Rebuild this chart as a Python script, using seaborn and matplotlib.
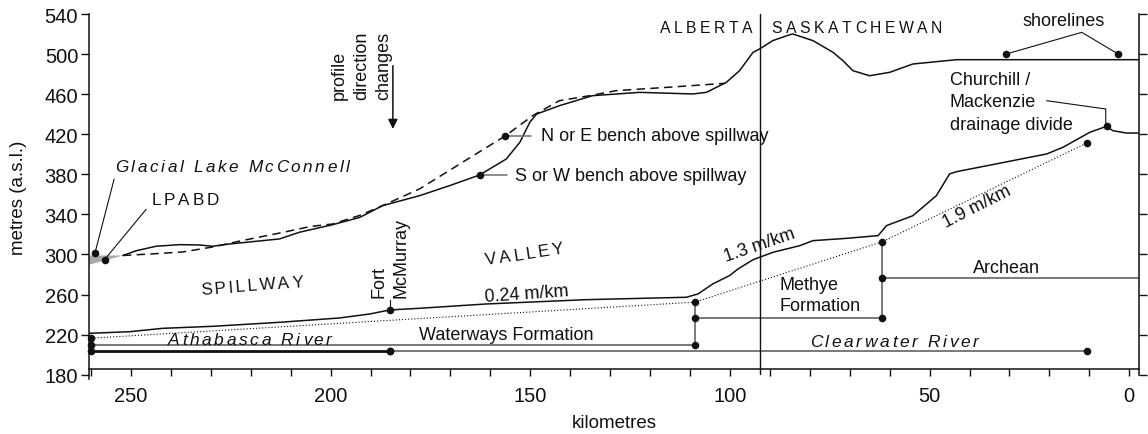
import numpy as np
import matplotlib
matplotlib.use("Agg")
import matplotlib.pyplot as plt
import seaborn as sns
from matplotlib.font_manager import FontProperties, findfont, get_font
from matplotlib.transforms import offset_copy

# ---- profile data (distance in km from the divide end, elevation in m a.s.l.) ----
bench_sw_km = [252.0, 248.6, 243.7, 237.9, 232.9, 229.5, 225.3, 212.8, 207.8, 199.5,
               192.7, 187.0, 177.7, 170.2, 162.7, 156.0, 152.6, 150.1, 148.4, 142.7,
               134.4, 122.6, 109.3, 105.9, 100.9, 97.6, 94.2, 92.6, 89.3, 85.0,
               84.2, 79.2, 74.2, 71.7, 69.2, 65.0, 60.0, 54.2, 43.3, -2.5]
bench_sw_m = [299.0, 303.8, 308.2, 309.8, 309.5, 308.2, 310.5, 315.5, 322.2, 329.7,
              337.0, 348.7, 358.7, 368.7, 379.3, 395.3, 412.0, 432.0, 440.2, 448.5,
              458.5, 461.8, 460.2, 461.8, 471.8, 483.4, 501.8, 505.0, 513.4, 519.4,
              520.0, 513.4, 501.8, 493.4, 483.4, 478.4, 481.8, 490.1, 494.4, 494.4]

bench_ne_km = [252.0, 245.0, 237.0, 229.5, 222.0, 212.0, 205.0, 199.5, 192.7, 187.0,
               177.7, 170.2, 162.7, 156.2, 149.4, 142.7, 135.1, 128.5, 115.0, 101.3]
bench_ne_m = [299.0, 300.5, 302.5, 307.5, 314.0, 322.0, 328.0, 330.4, 339.0, 348.7,
              365.5, 384.0, 402.5, 418.5, 438.5, 453.5, 458.5, 463.5, 467.0, 470.8]

floor_km = [260.5, 250.4, 242.0, 229.5, 212.8, 197.8, 190.2, 185.2, 177.7, 161.0,
            136.0, 110.9, 108.0, 104.3, 100.1, 98.0, 94.2, 89.2, 82.5, 79.2,
            70.8, 62.9, 60.8, 54.2, 48.3, 45.0, 43.3, 20.7, 16.6, 9.9,
            5.7, 4.1, 0.7, -2.5]
floor_m = [221.3, 222.9, 226.3, 228.3, 232.3, 236.6, 240.6, 244.6, 246.3, 250.6,
           254.9, 257.3, 260.6, 270.6, 278.9, 285.5, 294.8, 302.2, 308.8, 313.8,
           316.1, 318.8, 328.8, 338.7, 358.7, 380.4, 382.6, 400.3, 407.0, 421.9,
           427.9, 423.5, 421.2, 421.2]

grade_km = [259.9, 108.8, 61.8, 10.6]
grade_m = [216.5, 252.4, 312.8, 411.3]

# river and formation contacts
athabasca_km = [260.5, 185.2]
clearwater_km = [185.2, 10.7]
river_m = 203.3
waterways_km = [260.5, 108.8]
waterways_m = 209.7
methye_km = [108.8, 61.8]
methye_m = 237.0
archean_km = [61.8, -2.5]
archean_m = 276.8

border_km = 92.5
fort_mcmurray = (185.2, 244.6)
bench_ne_pt = (156.2, 418.5)
bench_sw_pt = (162.7, 379.3)
mcconnell_pt = (259.0, 301.5)
lpabd_pt = (256.6, 294.8)
divide_pt = (5.7, 427.9)
shoreline_km = [30.8, 2.8]
shoreline_m = [500.1, 500.1]

y_ticks = [180, 220, 260, 300, 340, 380, 420, 460, 500, 540]
x_ticks = [250, 200, 150, 100, 50, 0]

INK = "#111111"
GREY = "#6e6e6e"
FS = 13
TICK_FS = 14.5

sns.set_theme(style="ticks")
plt.rcParams["font.family"] = ["Liberation Sans", "DejaVu Sans"]

fig = plt.figure(figsize=(11.48, 4.35), dpi=100)
ax = fig.add_axes([0.0775, 0.1264, 0.9149, 0.8391])
ax.set_xlim(260.5, -2.5)
ax.set_ylim(175.7, 540)


def tracked_text(x, y, s, size, tracking, rotation=0.0, ha="left", style="normal", color=INK):
    """Draw letter-spaced text character by character along a (rotated) baseline."""
    prop = FontProperties(family="Liberation Sans", style=style, size=size)
    font = get_font(findfont(prop))
    font.set_size(size, 72)
    adv = [font.load_char(ord(ch)).linearHoriAdvance / 65536 for ch in s]
    total = sum(adv) + tracking * (len(s) - 1)
    pos = {"left": 0.0, "center": -total / 2, "right": -total}[ha]
    th = np.deg2rad(rotation)
    for ch, a in zip(s, adv):
        if ch != " ":
            tr = offset_copy(ax.transData, fig=fig, x=pos * np.cos(th), y=pos * np.sin(th), units="points")
            ax.text(x, y, ch, transform=tr, fontproperties=prop, rotation=rotation,
                    rotation_mode="anchor", ha="left", va="baseline", color=color)
        pos += a + tracking


# shaded lake wedge at the spillway head
ax.fill([260.5, 260.5, 252.0], [299.0, 289.7, 299.0], color="#a9a9a9", lw=0, zorder=1)

# upland benches and valley floor
sns.lineplot(x=bench_sw_km, y=bench_sw_m, ax=ax, color=INK, lw=1.1, estimator=None, sort=False)
sns.lineplot(x=bench_ne_km, y=bench_ne_m, ax=ax, color=INK, lw=1.1, estimator=None, sort=False,
             dashes=False, linestyle=(0, (5.5, 3.5)))
sns.lineplot(x=floor_km, y=floor_m, ax=ax, color=INK, lw=1.1, estimator=None, sort=False)
sns.lineplot(x=grade_km, y=grade_m, ax=ax, color=INK, lw=0.8, estimator=None, sort=False,
             linestyle=(0, (1, 1.8)))

# rivers and formation contacts
sns.lineplot(x=athabasca_km, y=[river_m] * 2, ax=ax, color=INK, lw=2.0, estimator=None)
sns.lineplot(x=clearwater_km, y=[river_m] * 2, ax=ax, color=GREY, lw=1.3, estimator=None)
sns.lineplot(x=waterways_km, y=[waterways_m] * 2, ax=ax, color=GREY, lw=1.3, estimator=None)
sns.lineplot(x=methye_km, y=[methye_m] * 2, ax=ax, color=GREY, lw=1.3, estimator=None)
sns.lineplot(x=archean_km, y=[archean_m] * 2, ax=ax, color=GREY, lw=1.3, estimator=None)
ax.plot([108.8, 108.8], [waterways_m, grade_m[1]], color=GREY, lw=1.3)
ax.plot([61.8, 61.8], [methye_m, grade_m[2]], color=GREY, lw=1.3)

# provincial border
ax.plot([border_km, border_km], [540, 180.5], color=INK, lw=1.0, clip_on=False)

# points
pts_km = [259.9, 259.9, 259.9, 185.2, 185.2, 108.8, 108.8, 108.8, 61.8, 61.8, 61.8,
          10.7, 10.6, fort_mcmurray[0], bench_ne_pt[0], bench_sw_pt[0], mcconnell_pt[0],
          lpabd_pt[0], divide_pt[0]] + shoreline_km
pts_m = [grade_m[0], waterways_m, river_m, river_m, river_m, grade_m[1], methye_m, waterways_m,
         grade_m[2], archean_m, methye_m, river_m, grade_m[3], fort_mcmurray[1], bench_ne_pt[1],
         bench_sw_pt[1], mcconnell_pt[1], lpabd_pt[1], divide_pt[1]] + shoreline_m
sns.scatterplot(x=pts_km, y=pts_m, ax=ax, color=INK, s=30, linewidth=0, zorder=5, clip_on=False)

# leader lines
ax.plot([mcconnell_pt[0], 254.2], [mcconnell_pt[1], 375.3], color=INK, lw=0.8)
ax.plot([lpabd_pt[0], 246.2], [lpabd_pt[1], 345.0], color=INK, lw=0.8)
ax.plot([bench_ne_pt[0], 149.8], [bench_ne_pt[1]] * 2, color=GREY, lw=1.1)
ax.plot([bench_sw_pt[0], 155.7], [bench_sw_pt[1]] * 2, color=GREY, lw=1.1)
ax.plot([fort_mcmurray[0]] * 2, [fort_mcmurray[1], 254.6], color=INK, lw=0.8)
ax.plot([shoreline_km[0], 11.9, shoreline_km[1]], [shoreline_m[0], 521.7, shoreline_m[1]], color=INK, lw=0.8)
ax.plot([20.7, 5.9, 5.9], [453.5, 445.2, divide_pt[1]], color=INK, lw=0.8)
ax.annotate("", xy=(184.4, 425.3), xytext=(184.4, 488.4),
            arrowprops=dict(arrowstyle="-|>", color=INK, lw=1.1, mutation_scale=14, shrinkA=0, shrinkB=0))

# letter-spaced labels
tracked_text(94.3, 522.3, "ALBERTA", 11.3, 2.6, ha="right")
tracked_text(89.6, 522.3, "SASKATCHEWAN", 11.3, 2.6)
tracked_text(253.9, 383.6, "Glacial Lake McConnell", 12.3, 1.9, style="italic")
tracked_text(244.9, 350.4, "LPABD", 12.3, 2.1)
tracked_text(232.4, 260.6, "SPILLWAY", 12.3, 1.8, rotation=4.5)
tracked_text(161.0, 290.5, "VALLEY", 12.3, 2.1, rotation=8.5)
tracked_text(240.8, 210.8, "Athabasca River", 12.5, 1.9, style="italic")
tracked_text(80.0, 208.7, "Clearwater River", 12.5, 1.9, style="italic")

# plain labels
ax.text(161.4, 253.6, "0.24 m/km", fontsize=FS, rotation=4, rotation_mode="anchor", ha="left", va="baseline", color=INK)
ax.text(100.9, 293.8, "1.3 m/km", fontsize=FS, rotation=19, rotation_mode="anchor", ha="left", va="baseline", color=INK)
ax.text(45.8, 327.1, "1.9 m/km", fontsize=FS, rotation=27, rotation_mode="anchor", ha="left", va="baseline", color=INK)
ax.text(155.9, 215.6, "Waterways Formation", fontsize=FS, ha="center", va="baseline", color=INK)
ax.text(87.6, 259.4, "Methye\nFormation", fontsize=FS, ha="left", va="center", linespacing=1.35, color=INK)
ax.text(30.8, 282.8, "Archean", fontsize=FS, ha="center", va="baseline", color=INK)
ax.text(45.0, 452.2, "Churchill /\nMackenzie\ndrainage divide", fontsize=FS, ha="left", va="center",
        linespacing=1.45, color=INK)
ax.text(16.4, 534.0, "shorelines", fontsize=FS, ha="center", va="center", color=INK)
ax.text(147.2, bench_ne_pt[1], "N or E bench above spillway", fontsize=FS, ha="left", va="center", color=INK)
ax.text(153.9, bench_sw_pt[1], "S or W bench above spillway", fontsize=FS, ha="left", va="center", color=INK)
ax.text(185.2, 257.5, "Fort\nMcMurray", fontsize=FS, rotation=90, ha="center", va="bottom",
        multialignment="left", linespacing=1.4, color=INK)
ax.text(192.2, 455.2, "profile\ndirection\nchanges", fontsize=FS, rotation=90, ha="center", va="bottom",
        multialignment="left", linespacing=1.4, color=INK)

# axes styling
ax.set_yticks(y_ticks)
ax.set_xticks(x_ticks)
ax.set_xticks(np.arange(0, 261, 10), minor=True)
ax.spines["top"].set_visible(False)
ax.spines["bottom"].set_position(("data", 185.5))
ax.spines["right"].set_bounds(180, 540)
for side in ["left", "right", "bottom"]:
    ax.spines[side].set_color(INK)
    ax.spines[side].set_linewidth(1.1)
ax.tick_params(axis="y", which="both", direction="out", length=5.8, width=1.0, color=INK,
               labelsize=TICK_FS, pad=2, right=True, labelright=False, labelcolor=INK)
ax.tick_params(axis="x", which="both", direction="out", length=5.0, width=1.0, color=INK,
               labelsize=TICK_FS, pad=7, labelcolor=INK)
ax.set_xlabel("kilometres", fontsize=13.5, color=INK)
ax.set_ylabel("metres (a.s.l.)", fontsize=13.5, color=INK)
ax.xaxis.set_label_coords(0.5, -0.12)
ax.xaxis.label.set_va("center")
ax.yaxis.set_label_coords(-0.0667, 0.5)
ax.yaxis.label.set_va("center")

fig.savefig("out.png", dpi=100)
